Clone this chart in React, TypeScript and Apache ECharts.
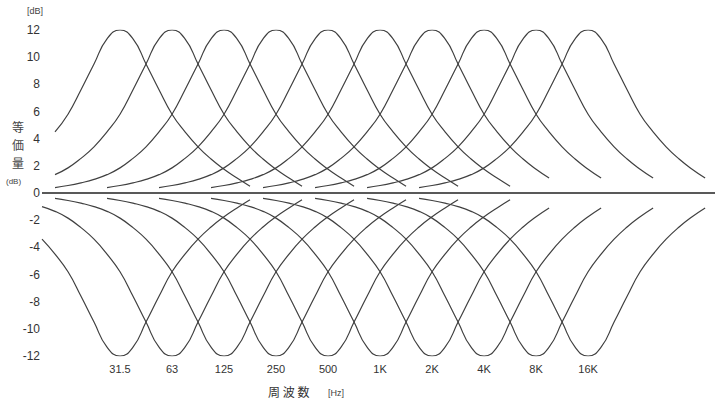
import React, { useEffect, useRef } from "react";
import * as echarts from "echarts";

// Band centre labels (one octave apart)
const freqLabels = ["31.5", "63", "125", "250", "500", "1K", "2K", "4K", "8K", "16K"];
const bandIndex = [0, 1, 2, 3, 4, 5, 6, 7, 8, 9];

// Response shape: offset from band centre (octaves) -> dB
const profileOffsets = [
  -3.25, -3, -2.75, -2.5, -2.25, -2, -1.75, -1.5, -1.25, -1, -0.75, -0.5, -0.25,
  0, 0.25, 0.5, 0.75, 1, 1.25, 1.5, 1.75, 2, 2.25, 2.5,
];
const boostDb = [
  0.4, 0.55, 0.75, 1.0, 1.35, 1.85, 2.55, 3.4, 4.5, 5.8, 7.6, 9.5, 11.35,
  12, 11.35, 9.5, 7.6, 5.8, 4.5, 3.4, 2.5, 1.75, 1.1, 0.5,
];
const cutDb = [
  -0.4, -0.55, -0.75, -1.0, -1.35, -1.85, -2.55, -3.4, -4.5, -5.8, -7.6, -9.5, -11.35,
  -12, -11.35, -9.5, -7.6, -5.8, -4.5, -3.4, -2.5, -1.75, -1.1, -0.5,
];
// Visible extent of each drawn curve (indices into the profile)
const boostFrom = [8, 4, 0, 0, 0, 0, 0, 0, 0, 0];
const boostTo = [23, 23, 23, 23, 23, 23, 22, 22, 22, 22];
const cutFrom = [7, 3, 0, 0, 0, 0, 0, 0, 0, 0];
const cutTo = [23, 23, 23, 23, 23, 23, 22, 22, 22, 22];

const yTicks = [-12, -10, -8, -6, -4, -2, 0, 2, 4, 6, 8, 10, 12];

const LINE = "#404040";
const FONT = "'Liberation Sans', Arial, sans-serif";

function curve(band: number, values: number[], from: number, to: number) {
  const pts: number[][] = [];
  for (let k = from; k <= to; k++) pts.push([band + profileOffsets[k], values[k]]);
  return pts;
}

export default function App() {
  const ref = useRef<HTMLDivElement>(null);
  useEffect(() => {
    if (!ref.current) return;
    const chart = echarts.init(ref.current, undefined, { renderer: "svg" });
    const series: any[] = [];
    bandIndex.forEach((b) => {
      series.push({
        type: "line",
        data: curve(b, boostDb, boostFrom[b], boostTo[b]),
        smooth: true,
        showSymbol: false,
        lineStyle: { color: LINE, width: 1.2 },
        silent: true,
      });
      series.push({
        type: "line",
        data: curve(b, cutDb, cutFrom[b], cutTo[b]),
        smooth: true,
        showSymbol: false,
        lineStyle: { color: LINE, width: 1.2 },
        silent: true,
      });
    });
    series[0].markLine = {
      silent: true,
      symbol: "none",
      label: { show: false },
      lineStyle: { color: "#222", width: 1.5, type: "solid" },
      data: [{ yAxis: 0 }],
    };
    chart.setOption({
      animation: false,
      backgroundColor: "#ffffff",
      grid: { left: 42, right: 0, top: 30, bottom: 49 },
      xAxis: {
        type: "value",
        min: -1.5,
        max: 11.44,
        axisLine: { show: false },
        axisTick: { show: false },
        splitLine: { show: false },
        axisLabel: {
          customValues: bandIndex,
          formatter: (v: number) => freqLabels[Math.round(v)] ?? "",
          color: "#333",
          fontSize: 11,
          fontFamily: FONT,
          margin: 7,
        },
      },
      yAxis: {
        type: "value",
        min: -12,
        max: 12,
        interval: 2,
        axisLine: { show: false },
        axisTick: { show: false },
        splitLine: { show: false },
        axisLabel: {
          customValues: yTicks,
          color: "#333",
          fontSize: 12,
          fontFamily: FONT,
          margin: 2,
        },
      },
      graphic: [
        { type: "text", left: 27, top: 6, style: { text: "[dB]", fontSize: 9, fill: "#444", fontFamily: FONT } },
        { type: "text", left: 12, top: 120, style: { text: "等", fontSize: 12, fill: "#444", fontFamily: "'Noto Sans CJK JP'" } },
        { type: "text", left: 12, top: 138, style: { text: "価", fontSize: 12, fill: "#444", fontFamily: "'Noto Sans CJK JP'" } },
        { type: "text", left: 12, top: 156, style: { text: "量", fontSize: 12, fill: "#444", fontFamily: "'Noto Sans CJK JP'" } },
        { type: "text", left: 6, top: 177, style: { text: "(dB)", fontSize: 8, fill: "#444", fontFamily: FONT } },
        { type: "text", left: 268, top: 385, style: { text: "周 波 数", fontSize: 12, fill: "#333", fontFamily: "'Noto Sans CJK JP'" } },
        { type: "text", left: 328, top: 388, style: { text: "[Hz]", fontSize: 9, fill: "#444", fontFamily: FONT } },
      ],
      series,
    });
    return () => chart.dispose();
  }, []);
  return (
    <div
      ref={ref}
      style={{ position: "fixed", left: 0, top: 0, width: 715, height: 405, background: "#fff" }}
    />
  );
}
